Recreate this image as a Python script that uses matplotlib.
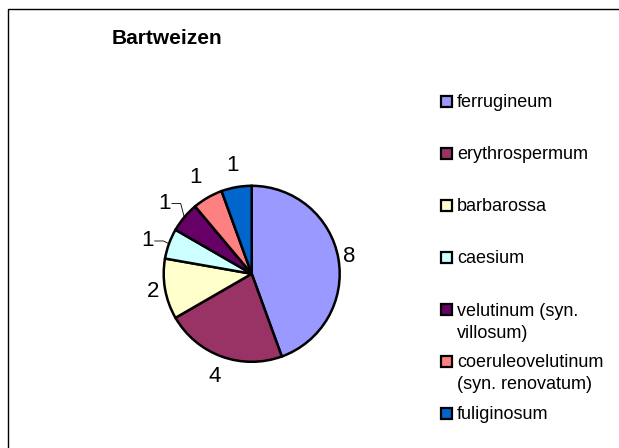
import numpy as np
import matplotlib
matplotlib.use('Agg')
import matplotlib.pyplot as plt
from matplotlib.patches import Rectangle

plt.rcParams['font.family'] = ['Liberation Sans', 'DejaVu Sans']

title = 'Bartweizen'
names = ['ferrugineum', 'erythrospermum', 'barbarossa', 'caesium',
         'velutinum (syn.\nvillosum)', 'coeruleovelutinum\n(syn. renovatum)',
         'fuliginosum']
counts = [8, 4, 2, 1, 1, 1, 1]
colors = ['#9999FF', '#993366', '#FFFFCC', '#CCFFFF', '#660066', '#FF8080',
          '#0066CC']

W, H = 619, 448
fig = plt.figure(figsize=(W / 100, H / 100), dpi=100)


def px(x, y):
    # pixel position (from top left) -> figure fraction
    return x / W, 1 - y / H


# outer chart frame (right and bottom sides lie outside the picture)
fig.add_artist(Rectangle(px(7.5, 500), 700 / W, 491.5 / H, fill=False,
                         edgecolor='black', lw=1.0,
                         transform=fig.transFigure))

fig.text(*px(112, 44.5), title, fontsize=15, fontweight='bold',
         ha='left', va='baseline')

# pie area
cx, cy, r = 251.7, 273.8, 88.0
lim = 1.1
ax = fig.add_axes([(cx - r * lim) / W, 1 - (cy + r * lim) / H,
                   2 * r * lim / W, 2 * r * lim / H])
wedges, _ = ax.pie(counts, colors=colors, startangle=90, counterclock=False,
                   wedgeprops=dict(edgecolor='black', linewidth=1.8))
ax.set_xlim(-lim, lim)
ax.set_ylim(-lim, lim)
ax.set_aspect('equal')
ax.axis('off')

# value labels outside the slices
label_dist = [1.13, 1.24, 1.135, 1.24, 1.27, 1.27, 1.245]
label_turn = [0, 0, 0, 2.5, 1.0, 0, 0]  # small extra angle, degrees
leader = [False, False, False, True, True, False, False]
for w, v, d, t, ld in zip(wedges, counts, label_dist, label_turn, leader):
    mid = (w.theta1 + w.theta2) / 2
    ang = np.deg2rad(mid + t)
    x, y = d * np.cos(ang), d * np.sin(ang)
    ax.text(x, y, str(v), fontsize=16, ha='center', va='center',
            clip_on=False)
    if ld:
        ea = np.deg2rad(mid)
        ex, ey = np.cos(ea), np.sin(ea)
        sx = x + 0.08
        ax.plot([sx, sx + 0.1, ex], [y, y, ey], color='black', lw=0.6,
                clip_on=False)

# legend
leg_y = [100.7, 152.7, 205, 256.7, 309.3, 360.7, 412.7]
for name, c, yy in zip(names, colors, leg_y):
    fig.add_artist(Rectangle(px(441, yy + 6), 11 / W, 11 / H,
                             facecolor=c, edgecolor='black', lw=1.6,
                             transform=fig.transFigure))
    for i, line in enumerate(name.split('\n')):
        fig.text(*px(457, yy + 6.3 + i * 22.4), line, fontsize=13,
                 ha='left', va='baseline')

fig.savefig('out.png', dpi=100)
